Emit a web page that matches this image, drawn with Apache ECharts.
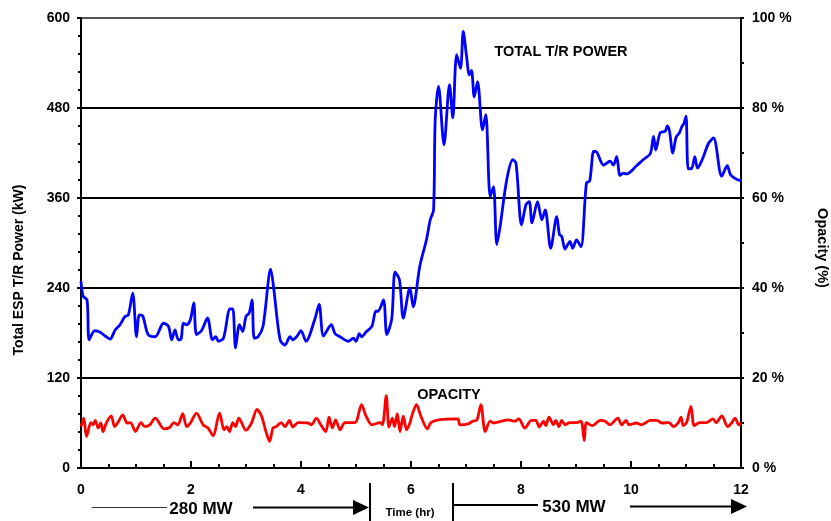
<!DOCTYPE html>
<html>
<head>
<meta charset="utf-8">
<script src="https://cdn.jsdelivr.net/npm/echarts@6/dist/echarts.min.js"></script>
<style>
html,body{margin:0;padding:0;background:#fff;}
#chart{width:831px;height:521px;}
</style>
</head>
<body>
<div id="chart"></div>
<script>
// ---- data ----
const xTicks = [0, 2, 4, 6, 8, 10, 12];
const powerTime = [0, 0.04, 0.11, 0.15, 0.25, 0.35, 0.44, 0.53, 0.62, 0.71,
  0.8, 0.86, 0.94, 1.01, 1.06, 1.12, 1.22, 1.35, 1.5, 1.59,
  1.65, 1.71, 1.77, 1.82, 1.86, 1.92, 1.99, 2.05, 2.1, 2.19,
  2.3, 2.39, 2.45, 2.5, 2.59, 2.71, 2.76, 2.81, 2.88, 2.94,
  3.0, 3.06, 3.11, 3.15, 3.22, 3.31, 3.45, 3.5, 3.62, 3.71,
  3.8, 3.85, 3.92, 4.0, 4.09, 4.25, 4.33, 4.41, 4.55, 4.62,
  4.71, 4.86, 4.95, 5.0, 5.06, 5.1, 5.19, 5.29, 5.36, 5.4,
  5.5, 5.56, 5.65, 5.71, 5.79, 5.86, 5.98, 6.04, 6.16, 6.28,
  6.35, 6.41, 6.44, 6.5, 6.6, 6.7, 6.76, 6.83, 6.9, 6.95,
  7.01, 7.06, 7.1, 7.15, 7.21, 7.3, 7.36, 7.44, 7.5, 7.56,
  7.62, 7.74, 7.85, 7.91, 8.01, 8.09, 8.15, 8.2, 8.3, 8.38,
  8.44, 8.54, 8.65, 8.7, 8.74, 8.8, 8.85, 8.89, 8.94, 9.01,
  9.09, 9.19, 9.25, 9.32, 9.36, 9.5, 9.62, 9.68, 9.74, 9.8,
  9.86, 9.92, 10.1, 10.22, 10.35, 10.41, 10.45, 10.53, 10.62, 10.66,
  10.7, 10.76, 10.82, 10.88, 10.93, 10.96, 11.0, 11.04, 11.1, 11.16,
  11.21, 11.3, 11.41, 11.5, 11.65, 11.75, 11.81, 11.92, 12.0];
const powerKW = [249, 229, 224, 171, 183, 181, 176, 172, 184, 191,
  202, 204, 233, 175, 204, 203, 178, 175, 193, 189,
  171, 184, 171, 172, 193, 191, 198, 220, 178, 183,
  200, 171, 175, 169, 173, 212, 212, 160, 191, 182,
  202, 207, 224, 173, 175, 189, 265, 242, 171, 164,
  175, 171, 175, 183, 169, 198, 218, 176, 191, 179,
  175, 169, 173, 169, 179, 175, 182, 189, 209, 209,
  224, 178, 199, 261, 251, 200, 240, 215, 269, 304,
  331, 344, 464, 509, 431, 511, 467, 551, 533, 582,
  549, 524, 530, 495, 515, 451, 471, 362, 375, 298,
  322, 384, 411, 406, 324, 351, 355, 327, 355, 331,
  344, 293, 335, 311, 309, 292, 298, 302, 293, 304,
  295, 380, 383, 422, 422, 404, 409, 404, 415, 390,
  393, 392, 403, 411, 419, 442, 424, 447, 449, 456,
  449, 420, 441, 447, 456, 459, 469, 399, 399, 415,
  400, 412, 433, 440, 389, 403, 391, 385, 383];
const opacityTime = [0, 0.05, 0.1, 0.18, 0.22, 0.26, 0.31, 0.36, 0.4, 0.46,
  0.55, 0.61, 0.67, 0.76, 0.84, 0.9, 0.99, 1.09, 1.16, 1.25,
  1.35, 1.51, 1.61, 1.69, 1.76, 1.85, 1.92, 1.99, 2.1, 2.22,
  2.31, 2.4, 2.52, 2.6, 2.65, 2.7, 2.76, 2.81, 2.87, 3.0,
  3.1, 3.2, 3.28, 3.37, 3.43, 3.49, 3.55, 3.64, 3.71, 3.79,
  3.85, 3.95, 4.13, 4.19, 4.28, 4.36, 4.45, 4.51, 4.57, 4.63,
  4.71, 4.8, 4.98, 5.1, 5.18, 5.29, 5.44, 5.48, 5.55, 5.6,
  5.66, 5.7, 5.75, 5.8, 5.86, 5.92, 5.98, 6.02, 6.1, 6.18,
  6.3, 6.36, 6.5, 6.85, 6.89, 7.04, 7.12, 7.2, 7.27, 7.35,
  7.44, 7.5, 7.65, 7.77, 7.89, 7.96, 8.07, 8.19, 8.27, 8.33,
  8.41, 8.45, 8.51, 8.59, 8.63, 8.69, 8.74, 8.8, 8.89, 9.01,
  9.09, 9.15, 9.19, 9.3, 9.44, 9.53, 9.62, 9.76, 9.83, 9.91,
  9.96, 10.1, 10.19, 10.26, 10.35, 10.47, 10.56, 10.69, 10.77, 10.86,
  10.91, 10.95, 11.01, 11.09, 11.15, 11.25, 11.37, 11.49, 11.55, 11.65,
  11.76, 11.83, 11.89, 11.96, 12.0];
const opacityPct = [9.2, 11.1, 7.0, 10.1, 9.6, 10.6, 8.9, 10.0, 8.1, 10.0,
  11.6, 9.2, 10.1, 11.8, 10.0, 10.1, 8.1, 10.1, 9.2, 9.6,
  11.1, 8.7, 9.0, 10.1, 9.6, 12.1, 9.2, 10.0, 12.2, 9.6,
  8.9, 7.2, 12.2, 8.5, 9.2, 8.1, 10.1, 9.2, 11.1, 8.4,
  10.0, 13.0, 11.6, 7.8, 5.9, 8.9, 9.2, 10.1, 9.2, 10.6,
  9.1, 10.1, 10.0, 9.6, 11.1, 9.6, 8.1, 11.3, 8.9, 10.7,
  8.5, 10.1, 10.1, 14.1, 11.6, 9.6, 10.1, 9.6, 16.1, 9.1,
  11.1, 9.2, 12.1, 8.1, 11.5, 8.5, 10.0, 11.8, 14.1, 11.5,
  8.7, 10.1, 10.7, 10.9, 9.6, 9.8, 10.4, 10.7, 14.1, 8.1,
  10.4, 10.0, 10.4, 10.7, 10.4, 10.9, 8.9, 10.6, 10.6, 9.1,
  10.4, 9.4, 11.3, 9.6, 10.6, 9.2, 10.6, 9.6, 10.1, 10.1,
  10.4, 6.1, 10.1, 9.4, 10.6, 10.4, 9.6, 11.1, 9.6, 10.6,
  9.6, 10.0, 9.6, 10.0, 10.6, 10.6, 10.0, 10.1, 9.2, 10.1,
  11.3, 9.4, 10.1, 13.7, 9.4, 10.1, 10.1, 10.9, 10.1, 11.6,
  9.2, 10.0, 11.1, 9.6, 10.1];

const powerData = powerTime.map((t, i) => [t, powerKW[i]]);
const opacityData = opacityTime.map((t, i) => [t, opacityPct[i]]);

const FONT = 'Liberation Sans, Arial, sans-serif';
const chart = echarts.init(document.getElementById('chart'), null, {renderer: 'canvas'});

const option = {
  backgroundColor: '#ffffff',
  animation: false,
  grid: {left: 81, right: 90, top: 18, bottom: 53, containLabel: false},
  xAxis: {
    type: 'value', min: xTicks[0], max: xTicks[xTicks.length - 1], interval: 2,
    axisLine: {show: true, onZero: false, lineStyle: {color: '#000', width: 2}},
    axisTick: {show: true, inside: true, length: 7, lineStyle: {color: '#000', width: 2}},
    minorTick: {show: true, splitNumber: 4, length: 4, lineStyle: {color: '#000', width: 2}},
    splitLine: {show: false},
    axisLabel: {color: '#000', fontFamily: FONT, fontWeight: 'bold', fontSize: 14, margin: 15}
  },
  yAxis: [{
    type: 'value', min: 0, max: 600, interval: 120, position: 'left',
    axisLine: {show: true, lineStyle: {color: '#000', width: 2}},
    axisTick: {show: true, inside: false, length: 4, lineStyle: {color: '#000', width: 2}},
    minorTick: {show: true, splitNumber: 5, length: 3, lineStyle: {color: '#000', width: 2}},
    splitLine: {show: true, lineStyle: {color: ['#000', '#000', '#000', '#000', '#000', '#555'], width: 2}},
    axisLabel: {color: '#000', fontFamily: FONT, fontWeight: 'bold', fontSize: 14, margin: 11}
  }, {
    type: 'value', min: 0, max: 100, interval: 20, position: 'right',
    axisLine: {show: true, lineStyle: {color: '#000', width: 2}},
    axisTick: {show: true, inside: false, length: 3, lineStyle: {color: '#000', width: 2}},
    minorTick: {show: true, splitNumber: 2, length: 3, lineStyle: {color: '#000', width: 2}},
    splitLine: {show: false},
    axisLabel: {color: '#000', fontFamily: FONT, fontWeight: 'bold', fontSize: 14, margin: 11, formatter: '{value} %'}
  }],
  series: [{
    name: 'TOTAL T/R POWER', type: 'line', yAxisIndex: 0, data: powerData,
    showSymbol: false, smooth: 0.3, z: 3,
    lineStyle: {color: '#0000ff', width: 2.8}
  }, {
    name: 'OPACITY', type: 'line', yAxisIndex: 1, data: opacityData,
    showSymbol: false, smooth: 0.3, z: 3,
    lineStyle: {color: '#ff0000', width: 2.8}
  }],
  graphic: [
    {type: 'text', x: 19, y: 270, rotation: Math.PI / 2,
     style: {text: 'Total ESP T/R Power (kW)', fill: '#000', font: 'bold 14px ' + FONT, align: 'center', verticalAlign: 'middle'}},
    {type: 'text', x: 822, y: 248, rotation: -Math.PI / 2,
     style: {text: 'Opacity (%)', fill: '#000', font: 'bold 14.5px ' + FONT, align: 'center', verticalAlign: 'middle'}},
    {type: 'text', x: 561, y: 52,
     style: {text: 'TOTAL T/R POWER', fill: '#000', font: 'bold 14.5px ' + FONT, align: 'center', verticalAlign: 'middle'}},
    {type: 'text', x: 449, y: 395,
     style: {text: 'OPACITY', fill: '#000', font: 'bold 14.5px ' + FONT, align: 'center', verticalAlign: 'middle'}},
    // 280 MW annotation
    {type: 'line', shape: {x1: 92, y1: 507.5, x2: 167, y2: 507.5}, style: {stroke: '#333', lineWidth: 1}},
    {type: 'text', x: 201, y: 509,
     style: {text: '280 MW', fill: '#000', font: 'bold 17px ' + FONT, align: 'center', verticalAlign: 'middle'}},
    {type: 'line', shape: {x1: 253, y1: 507.5, x2: 355, y2: 507.5}, style: {stroke: '#000', lineWidth: 2}},
    {type: 'polygon', shape: {points: [[353, 500], [369, 507.5], [353, 515]]}, style: {fill: '#000'}},
    {type: 'line', shape: {x1: 370, y1: 483, x2: 370, y2: 521}, style: {stroke: '#000', lineWidth: 2}},
    {type: 'text', x: 410, y: 513,
     style: {text: 'Time (hr)', fill: '#000', font: 'bold 11.5px ' + FONT, align: 'center', verticalAlign: 'middle'}},
    {type: 'line', shape: {x1: 453, y1: 483, x2: 453, y2: 521}, style: {stroke: '#000', lineWidth: 2}},
    // 530 MW annotation
    {type: 'line', shape: {x1: 453, y1: 505, x2: 538, y2: 505}, style: {stroke: '#000', lineWidth: 2}},
    {type: 'text', x: 574, y: 507,
     style: {text: '530 MW', fill: '#000', font: 'bold 17px ' + FONT, align: 'center', verticalAlign: 'middle'}},
    {type: 'line', shape: {x1: 630, y1: 506.5, x2: 734, y2: 506.5}, style: {stroke: '#000', lineWidth: 2}},
    {type: 'polygon', shape: {points: [[731, 499], [747, 506.5], [731, 514]]}, style: {fill: '#000'}}
  ]
};
chart.setOption(option);
</script>
</body>
</html>
